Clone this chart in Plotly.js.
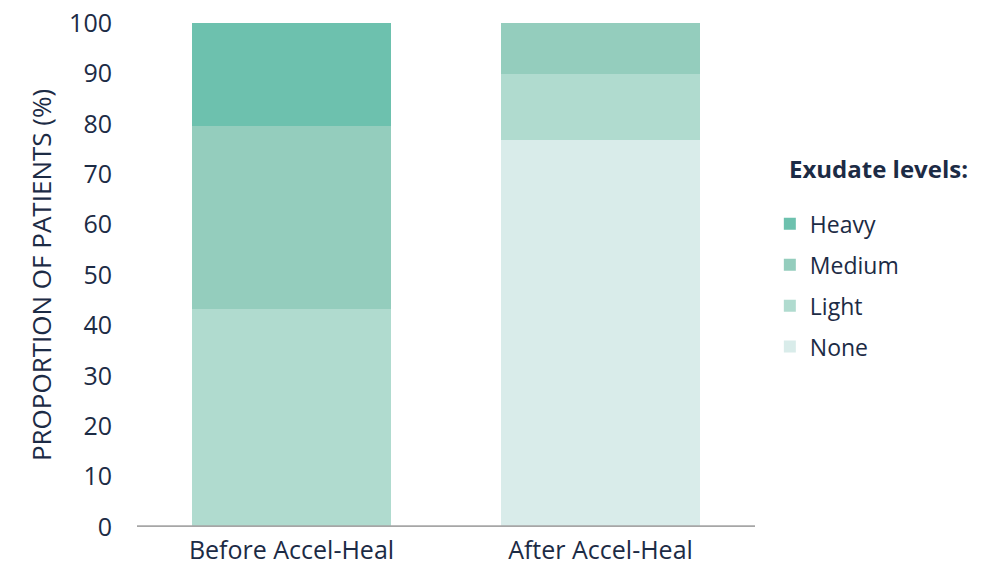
<!DOCTYPE html>
<html>
<head>
<meta charset="utf-8">
<script src="https://cdn.plot.ly/plotly-3.0.1.min.js"></script>
<style>html,body{margin:0;padding:0;background:#fff;}#chart{width:1005px;height:565px;}</style>
</head>
<body>
<div id="chart"></div>
<script>
const categories = ["Before Accel-Heal", "After Accel-Heal"];
const noneVals = [0, 76.8];
const lightVals = [43.2, 13.0];
const mediumVals = [36.4, 10.2];
const heavyVals = [20.4, 0];
const yTicks = [0, 10, 20, 30, 40, 50, 60, 70, 80, 90, 100];
const legendTitle = "Exudate levels:";
const yTitle = "PROPORTION OF PATIENTS (%)";

const textColor = "#1c2b45";
const fontFam = "'Open Sans', sans-serif";

function tr(name, vals, color, rank) {
  return {type: "bar", name: name, x: categories, y: vals, legendgroup: name, legendrank: rank,
    marker: {color: color, line: {width: 0}}, hoverinfo: "name+y"};
}
const data = [
  tr("None", noneVals, "#d9ecea", 4),
  tr("Light", lightVals, "#b0dbcf", 3),
  tr("Medium", mediumVals, "#94cdbd", 2),
  tr("Heavy", heavyVals, "#6dc1ae", 1)
];
const layout = {
  width: 1005, height: 565,
  margin: {l: 137, r: 250, t: 23, b: 38},
  barmode: "stack", bargap: 0.356,
  paper_bgcolor: "#fff", plot_bgcolor: "#fff",
  font: {family: fontFam, color: textColor, size: 22},
  xaxis: {showline: false, ticks: "", tickfont: {size: 25, color: textColor}, zeroline: false, showgrid: false, ticklabelstandoff: 6},
  yaxis: {range: [0, 100], tickvals: yTicks, showgrid: false, zeroline: false, showline: false,
    ticks: "", ticklabelstandoff: 24, tickfont: {size: 25, color: textColor},
    title: {text: yTitle, font: {size: 26, color: textColor}, standoff: 10}},
  shapes: [{type: "line", xref: "paper", yref: "y", x0: 0, x1: 1, y0: 0, y1: 0,
    line: {color: "#a6a6a6", width: 3.5}}],
  annotations: [{text: "<b>" + legendTitle + "</b>", xref: "paper", yref: "paper",
    x: 1.0566, y: 0.712, xanchor: "left", yanchor: "middle", showarrow: false, xshift: -3,
    font: {size: 24, color: textColor}}],
  legend: {x: 1.024, xanchor: "left", y: 0.644, yanchor: "top", traceorder: "grouped",
    font: {size: 23, color: textColor}, itemwidth: 30, tracegroupgap: 8},
  showlegend: true
};
Plotly.newPlot("chart", data, layout, {displayModeBar: false, staticPlot: true});
</script>
</body>
</html>
